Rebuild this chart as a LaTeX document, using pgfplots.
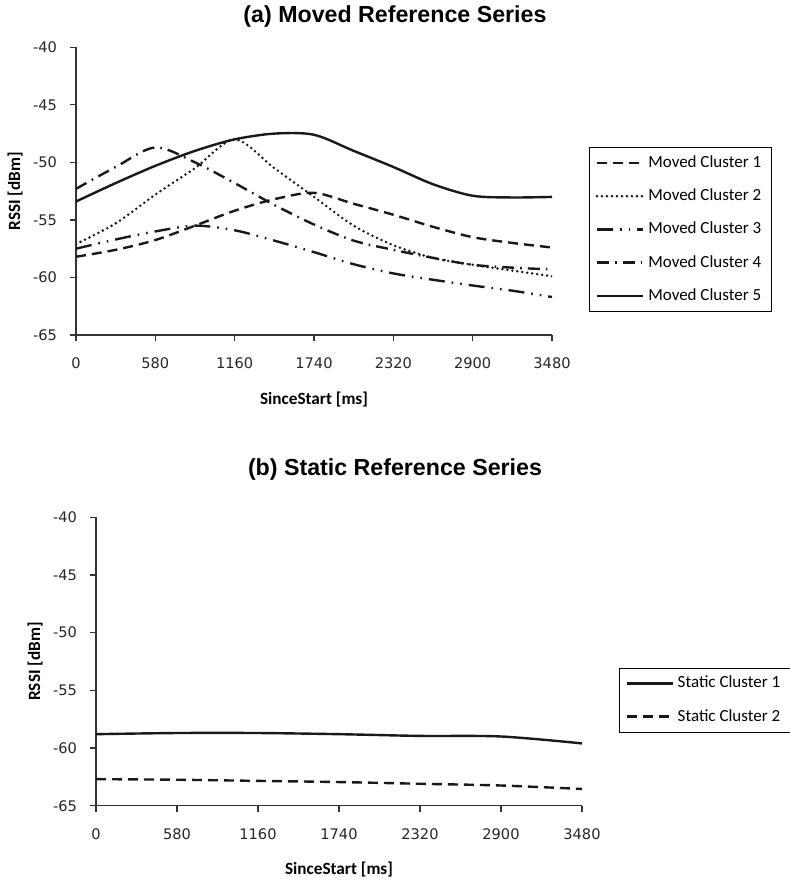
\documentclass[border=0pt]{standalone}
\usepackage{fontspec}
\setmainfont{Carlito}
\newfontfamily\tickfont{DejaVu Sans}
\newfontfamily\titlefont{Liberation Sans}
\usepackage{pgfplots}
\pgfplotsset{compat=1.18}

\pgfplotsset{
  rssi/.style={
    scale only axis,
    axis lines=left,
    axis line style={-, line width=0.6pt, black!80},
    tick align=outside,
    major tick length=3pt,
    tick style={line width=0.6pt, black!80},
    xmin=0, xmax=3480, ymin=-65, ymax=-40,
    xtick={0,580,1160,1740,2320,2900,3480},
    ytick={-65,-60,-55,-50,-45,-40},
    /pgf/number format/assume math mode=true,
    /pgf/number format/1000 sep={},
    tick label style={font=\tickfont\fontsize{7.3}{8}\selectfont, black!85},
    xticklabel style={yshift=-5pt},
    yticklabel style={xshift=-3pt},
    xlabel={SinceStart [ms]},
    ylabel={RSSI [dBm]},
    label style={font=\bfseries\fontsize{8.6}{10}\selectfont},
    legend cell align=left,
    legend image code/.code={\draw[##1] (0pt,0pt) -- (23pt,0pt);},
    legend style={font=\fontsize{8.5}{10}\selectfont, draw=black,
      inner xsep=3pt, inner ysep=2pt, row sep=5.2pt, anchor=west},
    every axis plot/.append style={smooth, tension=0.5, black!90},
  },
  c1/.style={line width=1.2pt, dash pattern=on 5pt off 3pt},
  c2/.style={line width=1.4pt, line cap=round, dash pattern=on 0pt off 2.5pt},
  c3/.style={line width=1.2pt, dash pattern=on 8pt off 3.5pt on 0.8pt off 3.5pt on 0.8pt off 3.5pt},
  c4/.style={line width=1.2pt, dash pattern=on 6pt off 3pt on 0.8pt off 3pt},
  c5/.style={line width=1.2pt, solid},
}

\begin{document}
\begin{tikzpicture}
\useasboundingbox (0,0) rectangle (394.5pt,441.5pt);

\node[font=\titlefont\bfseries\fontsize{11.6}{13}\selectfont] at (197.5pt,433pt) {(a) Moved Reference Series};
\node[font=\titlefont\bfseries\fontsize{11.6}{13}\selectfont] at (197.5pt,206.5pt) {(b) Static Reference Series};

\begin{axis}[rssi,
  at={(38pt,274pt)}, anchor=south west,
  width=238pt, height=143.85pt,
  xlabel style={at={(axis description cs:0.5,-0.2225)}, anchor=center},
  ylabel style={at={(axis description cs:-0.128,0.5)}, anchor=center, rotate=0},
  legend style={at={(1.078,0.367)}},
]
\addplot[c1] coordinates {(0,-58.2) (290,-57.6) (580,-56.75) (870,-55.5) (1160,-54.2) (1450,-53.2) (1740,-52.65) (2030,-53.6) (2320,-54.55) (2610,-55.6) (2900,-56.5) (3190,-57.0) (3480,-57.4)};
\addlegendentry{Moved Cluster 1}
\addplot[c2] coordinates {(0,-57.1) (290,-55.3) (580,-52.8) (870,-50.5) (1160,-48.0) (1450,-50.5) (1740,-53.0) (2030,-55.5) (2320,-57.2) (2610,-58.3) (2900,-58.9) (3190,-59.4) (3480,-59.9)};
\addlegendentry{Moved Cluster 2}
\addplot[c3] coordinates {(0,-57.5) (290,-56.7) (580,-56.0) (870,-55.5) (1160,-55.9) (1450,-56.8) (1740,-57.8) (2030,-58.85) (2320,-59.65) (2610,-60.2) (2900,-60.7) (3190,-61.15) (3480,-61.7)};
\addlegendentry{Moved Cluster 3}
\addplot[c4] coordinates {(0,-52.3) (290,-50.4) (580,-48.7) (870,-50.0) (1160,-51.8) (1450,-53.7) (1740,-55.4) (2030,-56.8) (2320,-57.6) (2610,-58.3) (2900,-58.9) (3190,-59.15) (3480,-59.3)};
\addlegendentry{Moved Cluster 4}
\addplot[c5] coordinates {(0,-53.4) (290,-51.8) (580,-50.3) (870,-49.0) (1160,-48.0) (1450,-47.5) (1740,-47.6) (2030,-49.0) (2320,-50.4) (2610,-51.9) (2900,-52.9) (3190,-53.05) (3480,-53.0)};
\addlegendentry{Moved Cluster 5}
\end{axis}

\begin{axis}[rssi,
  at={(48pt,38.65pt)}, anchor=south west,
  width=243pt, height=144.2pt,
  xlabel style={at={(axis description cs:0.5,-0.2219)}, anchor=center},
  ylabel style={at={(axis description cs:-0.1255,0.5)}, anchor=center, rotate=0},
  legend style={at={(1.076,0.3665)}},
]
\addplot[c5] coordinates {(0,-58.8) (580,-58.7) (1160,-58.7) (1740,-58.8) (2320,-58.95) (2900,-59.0) (3480,-59.6)};
\addlegendentry{Static Cluster 1}
\addplot[c1] coordinates {(0,-62.7) (580,-62.75) (1160,-62.85) (1740,-62.95) (2320,-63.1) (2900,-63.25) (3480,-63.55)};
\addlegendentry{Static Cluster 2}
\end{axis}
\end{tikzpicture}
\end{document}
